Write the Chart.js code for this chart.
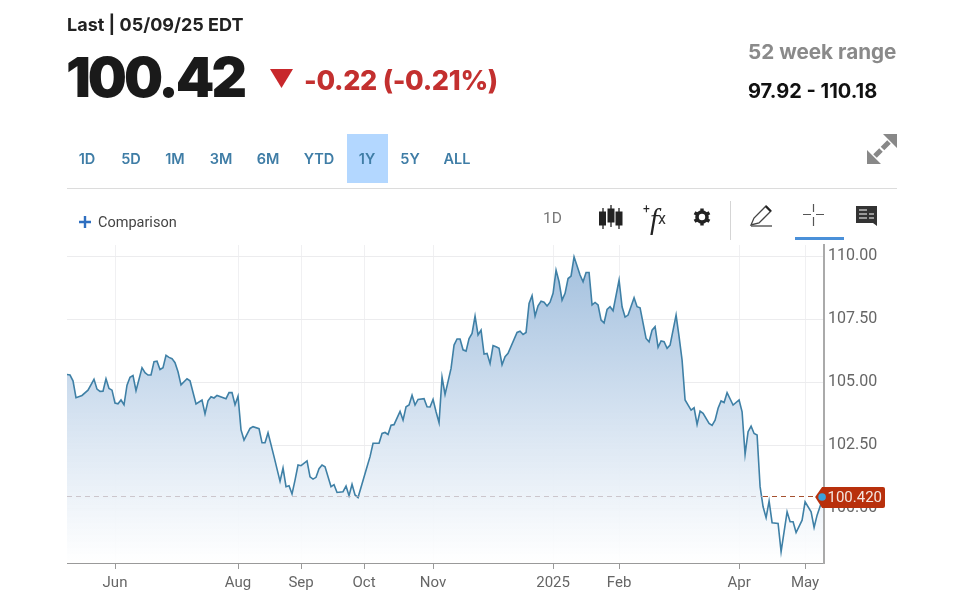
<!DOCTYPE html>
<html><head><meta charset="utf-8">
<script src="https://cdn.jsdelivr.net/npm/chart.js@4"></script>
<style>
html,body{margin:0;padding:0;background:#fff;width:975px;height:597px;overflow:hidden}
#c{position:absolute;left:0;top:0}
.t{position:absolute;white-space:nowrap;line-height:1}
.r{position:absolute;font:600 14.5px Inter,sans-serif;color:#3f7da6;top:152px;transform:translateX(-50%);line-height:1}
svg{position:absolute;overflow:visible}
</style></head><body>
<canvas id="c" width="975" height="597"></canvas>
<div class="t" style="left:67px;top:14px;font:700 18px Inter,sans-serif;color:#222">Last | 05/09/25 EDT</div>
<div class="t" style="left:66px;top:44px;font:900 55px Inter,sans-serif;letter-spacing:-3px;color:#1a1a1a">100.42</div>
<div class="t" style="left:304px;top:64px;font:800 27px Inter,sans-serif;letter-spacing:-.3px;color:#c3302f">-0.22 (-0.21%)</div>
<div class="t" style="left:748px;top:39px;font:700 20.7px Inter,sans-serif;color:#8a8a8a">52 week range</div>
<div class="t" style="left:748px;top:79px;font:700 20px Inter,sans-serif;color:#111">97.92 - 110.18</div>
<svg style="left:0;top:0" width="975" height="597">
<polygon points="270,69 293,69 281.5,88" fill="#c8282c"/>
<rect x="347" y="134" width="41" height="49" fill="#b3d7ff"/>
<rect x="67" y="188" width="830" height="1" fill="#dcdcdc"/>
<path d="M79 222h12M85 216v12" stroke="#2f6fc0" stroke-width="2.4"/>
<rect x="730" y="201" width="1" height="39" fill="#d5d5d5"/>
<rect x="795" y="237" width="49" height="3" fill="#4a90d9"/>
<g fill="#222" stroke="#222">
<path d="M603 208v21M611 205v22M619 208v21" stroke-width="1.3"/>
<rect x="599.5" y="212" width="6" height="13"/><rect x="608" y="209" width="6" height="13"/><rect x="616" y="212" width="6" height="13"/>
</g>
<g transform="translate(702 217)"><circle r="5" fill="none" stroke="#222" stroke-width="3.6"/><path d="M0-8.600V8.600M-7.450-4.300L7.450 4.300M-7.450 4.300L7.450-4.300" stroke="#222" stroke-width="3.4" stroke-dasharray="3.2 10.800"/></g>
<g fill="none" stroke="#444" stroke-width="1.3"><path d="M751 225l3-7 12-12 5 5-12 12z"/><path d="M751 226h21"/></g>
<path d="M765 207l1.5-1.5 5 5-1.5 1.5z" fill="#222"/>
<path d="M803 214.500h8M816 214.500h8M813.500 204v8M813.500 217v9" stroke="#555" stroke-width="1.2"/>
<path d="M856 206h21v20l-4-3h-17z" fill="#333"/>
<path d="M859 210h8M859 214h8M859 218h8M869 214h5M869 218h5" stroke="#fff" stroke-width="1.1"/>
<path d="M897 134v14l-14-14zM867 164v-14l14 14z" fill="#888"/>
<path d="M889 142l-6.500 6.500M875 156l6-6" stroke="#888" stroke-width="5"/>
</svg>
<div class="r" style="left:87px">1D</div><div class="r" style="left:131px">5D</div><div class="r" style="left:175px">1M</div>
<div class="r" style="left:221px">3M</div><div class="r" style="left:268px">6M</div><div class="r" style="left:319px">YTD</div>
<div class="r" style="left:367px">1Y</div><div class="r" style="left:410px">5Y</div><div class="r" style="left:457px">ALL</div>
<div class="t" style="left:98px;top:214px;font:14.5px Roboto,sans-serif;color:#444">Comparison</div>
<div class="t" style="left:543px;top:209px;font:15.500px Roboto,sans-serif;color:#777">1D</div>
<div class="t" style="left:650px;top:203px;font:italic 29px 'Liberation Serif',serif;color:#222">f</div>
<div class="t" style="left:643px;top:202px;font:12px Roboto,sans-serif;color:#222">+</div>
<div class="t" style="left:658px;top:209px;font:16px Roboto,sans-serif;color:#333">x</div>
<script>
const sessions=[0,1,2,3,5,7,9,10,11,12,13,14,15,16,17,18,19,20,21,22,23,25,26,27,28,29,30,31,32,33,34,35,36,37,38,40,41,43,45,46,47,48,49,50,53,54,55,56,57,58,59,61,62,64,65,66,67,69,71,72,73,74,75,76,77,78,80,81,82,83,84,85,86,88,89,90,92,93,94,95,96,97,
100,101,102,104,105,106,107,108,109,111,112,113,114,115,116,117,119,120,121,122,123,124,125,126,128,129,130,131,132,133,134,135,136,137,138,139,140,141,142,143,144,145,146,147,150,151,152,153,154,155,156,157,158,159,160,161,162,163,164,165,166,167,168,169,171,172,173,174,175,176,177,178,179,180,181,182,184,185,186,187,189,190,191,
193,194,195,196,197,198,199,200,201,203,204,205,206,208,209,210,211,212,214,215,216,217,218,219,220,222,224,225,226,227,228,229,230,231,232,233,234,235,237,238,240,241,242,243,245,246,248,249,250,252];
const closes=[105.30,105.28,105.05,104.38,104.47,104.68,105.11,104.72,104.63,104.64,105.13,104.75,104.68,104.17,104.14,104.29,104.10,104.88,105.19,105.26,104.66,105.57,105.37,105.28,105.28,105.81,105.83,105.50,105.57,106.06,105.98,105.93,105.77,105.41,104.89,105.13,105.05,104.13,104.29,103.74,104.26,104.42,104.37,104.47,104.34,104.58,104.58,104.10,104.44,103.10,102.70,103.16,103.23,103.15,102.59,102.59,102.99,102.04,101.06,101.59,100.85,100.89,100.56,101.11,101.71,101.68,101.87,101.24,101.15,101.22,101.56,101.71,101.64,100.85,100.93,100.62,100.65,100.87,100.49,100.94,100.52,100.42,
101.64,102.04,102.57,102.57,102.96,103.00,102.92,103.29,103.31,103.84,103.49,104.02,104.09,104.48,104.09,104.31,104.34,104.02,104.01,104.31,103.82,103.39,105.19,104.51,105.54,106.47,106.71,106.71,106.28,106.23,106.73,106.93,107.62,106.87,107.06,106.11,106.14,105.74,106.45,106.40,106.34,105.69,106.01,106.14,106.97,107.02,106.89,106.97,108.12,108.43,107.62,108.03,108.21,108.17,108.02,108.17,108.52,109.44,108.98,108.25,108.52,109.11,109.21,109.97,109.25,108.98,109.35,109.35,108.06,108.16,108.06,107.46,107.35,107.88,107.99,107.83,109.05,107.99,107.58,107.66,108.35,107.99,107.95,
106.73,106.60,107.06,107.20,106.38,106.63,106.60,106.34,106.47,107.66,106.80,105.87,104.29,103.89,103.98,103.32,103.85,103.76,103.36,103.28,103.49,103.96,104.25,104.19,104.58,104.09,104.29,103.82,102.13,103.03,103.25,102.96,102.90,100.85,100.05,99.62,100.28,99.42,99.39,98.27,99.85,99.46,99.46,99.03,99.52,100.25,99.85,99.23,99.72,100.42];
const tickSessions=[16,57,78,99,122,162,184,224,246];
const tickLabels=['Jun','Aug','Sep','Oct','Nov','2025','Feb','Apr','May'];
const priceTicks=[100,102.5,105,107.5,110];
const lastPrice=100.42;

const overlay={id:'overlay',
 afterDatasetsDraw(ch){
  const {ctx,scales:{x,y}}=ch,py=Math.round(y.getPixelForValue(lastPrice))-.5,sx=x.getPixelForValue(sessions[sessions.length-1]);
  ctx.save();ctx.lineWidth=1;ctx.setLineDash([5,4]);
  ctx.strokeStyle='rgba(190,180,185,.7)';ctx.beginPath();ctx.moveTo(x.left,py);ctx.lineTo(763,py);ctx.stroke();
  ctx.strokeStyle='#a5502f';ctx.beginPath();ctx.moveTo(763,py);ctx.lineTo(sx,py);ctx.stroke();
  ctx.restore();
 },
 afterDraw(ch){
  const {ctx,scales:{x,y}}=ch,py=y.getPixelForValue(lastPrice)-.5,sx=x.getPixelForValue(sessions[sessions.length-1]);
  ctx.save();ctx.fillStyle='#b8300c';ctx.beginPath();
  ctx.moveTo(sx-8,py);ctx.lineTo(sx-1,py-10);ctx.lineTo(883,py-10);ctx.quadraticCurveTo(885,py-10,885,py-8);ctx.lineTo(885,py+9);ctx.quadraticCurveTo(885,py+11,883,py+11);ctx.lineTo(sx-1,py+11);ctx.closePath();ctx.fill();
  ctx.fillStyle='#3aa2dc';ctx.beginPath();ctx.arc(sx-1,py,3.8,0,Math.PI*2);ctx.fill();
  ctx.fillStyle='#f4e6e0';ctx.font='15px Roboto,sans-serif';ctx.textAlign='right';ctx.textBaseline='middle';ctx.fillText('100.420',882,py+1);
  ctx.restore();
 }};

new Chart(document.getElementById('c'),{
 type:'line',
 data:{datasets:[{data:sessions.map((s,i)=>({x:s,y:closes[i]})),borderColor:'#3f80a6',borderWidth:1.6,pointRadius:0,tension:0,fill:'start',
  backgroundColor(c){const a=c.chart.chartArea;if(!a)return 'transparent';const g=c.chart.ctx.createLinearGradient(0,256,0,a.bottom);g.addColorStop(0,'#a3c0de');g.addColorStop(.5,'#d3e1f0');g.addColorStop(1,'rgba(255,255,255,.9)');return g;}}]},
 options:{responsive:false,animation:false,devicePixelRatio:1,
  layout:{padding:{left:67,top:245,right:0,bottom:0}},
  plugins:{legend:{display:false},tooltip:{enabled:false}},
  scales:{
   x:{type:'linear',min:0,max:252.3,
    afterBuildTicks(s){s.ticks=tickSessions.map(v=>({value:v}));},
    afterFit(s){s.height=34;},
    grid:{color:'#f0f0f2',lineWidth:1,tickColor:'#999',tickLength:6,drawOnChartArea:true},
    border:{color:'#9a9a9a',width:1},
    ticks:{autoSkip:false,maxRotation:0,padding:5,color:'#666',font:{family:'Roboto',size:15},
     callback(v){return tickLabels[tickSessions.indexOf(v)];}}},
   y:{position:'right',min:97.82,max:110.44,
    afterBuildTicks(s){s.ticks=priceTicks.map(v=>({value:v}));},
    afterFit(s){s.width=151;},
    grid:{color:'#ececee',lineWidth:1,drawTicks:false},
    border:{color:'#aaaaaa',width:2},
    ticks:{padding:4,color:'#666',font:{family:'Roboto',size:16},callback(v){return v.toFixed(2);}}}
  }},
 plugins:[overlay]});
</script>
</body></html>
